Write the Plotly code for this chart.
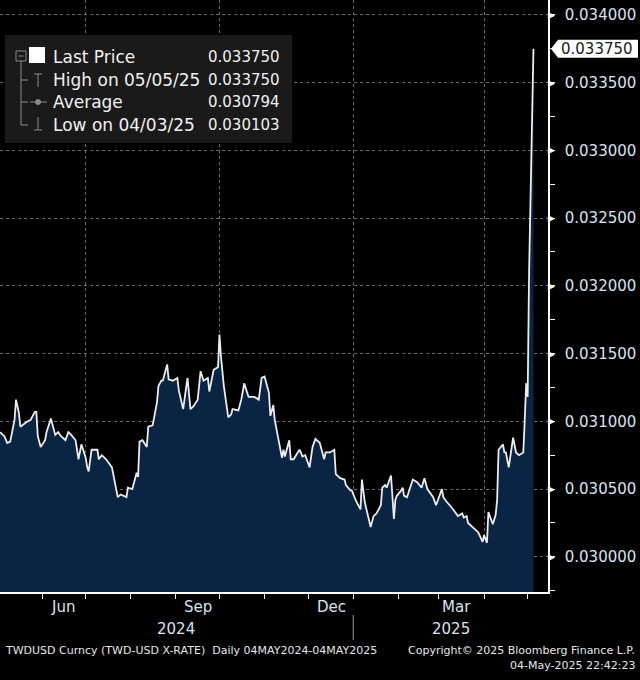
import plotly.graph_objects as go

# TWDUSD daily closes
dates = [
    "2024-05-03", "2024-05-06", "2024-05-08", "2024-05-10", "2024-05-13", "2024-05-14",
    "2024-05-16", "2024-05-17", "2024-05-22", "2024-05-24", "2024-05-27", "2024-05-28",
    "2024-05-29", "2024-05-31", "2024-06-03", "2024-06-04", "2024-06-07", "2024-06-10",
    "2024-06-12", "2024-06-14", "2024-06-17", "2024-06-19", "2024-06-21", "2024-06-24",
    "2024-06-25", "2024-06-26", "2024-06-28", "2024-07-01", "2024-07-02", "2024-07-03",
    "2024-07-05", "2024-07-09", "2024-07-10", "2024-07-12", "2024-07-15", "2024-07-18",
    "2024-07-19", "2024-07-23", "2024-07-25", "2024-07-29", "2024-07-30", "2024-08-02",
    "2024-08-05", "2024-08-06", "2024-08-07", "2024-08-09", "2024-08-12", "2024-08-13",
    "2024-08-16", "2024-08-19", "2024-08-20", "2024-08-22", "2024-08-23", "2024-08-26",
    "2024-08-27", "2024-08-30", "2024-09-02", "2024-09-03", "2024-09-06", "2024-09-09",
    "2024-09-11", "2024-09-13", "2024-09-16", "2024-09-18", "2024-09-20", "2024-09-23",
    "2024-09-24", "2024-09-27", "2024-09-30", "2024-10-01", "2024-10-02", "2024-10-04",
    "2024-10-07", "2024-10-09", "2024-10-10", "2024-10-14", "2024-10-16", "2024-10-18",
    "2024-10-21", "2024-10-23", "2024-10-25", "2024-10-28", "2024-10-30", "2024-11-01",
    "2024-11-04", "2024-11-05", "2024-11-07", "2024-11-08", "2024-11-11", "2024-11-12",
    "2024-11-13", "2024-11-14", "2024-11-15", "2024-11-18", "2024-11-19", "2024-11-21",
    "2024-11-25", "2024-11-26", "2024-11-27", "2024-11-29", "2024-12-02", "2024-12-04",
    "2024-12-06", "2024-12-09", "2024-12-11", "2024-12-12", "2024-12-13", "2024-12-16",
    "2024-12-19", "2024-12-20", "2024-12-23", "2024-12-26", "2024-12-27", "2024-12-30",
    "2024-12-31", "2025-01-03", "2025-01-06", "2025-01-07", "2025-01-09", "2025-01-10",
    "2025-01-13", "2025-01-15", "2025-01-17", "2025-01-20", "2025-01-21", "2025-01-23",
    "2025-01-24", "2025-01-27", "2025-01-29", "2025-01-30", "2025-01-31", "2025-02-03",
    "2025-02-04", "2025-02-05", "2025-02-07", "2025-02-11", "2025-02-14", "2025-02-17",
    "2025-02-19", "2025-02-21", "2025-02-25", "2025-02-27", "2025-03-03", "2025-03-04",
    "2025-03-06", "2025-03-10", "2025-03-12", "2025-03-14", "2025-03-17", "2025-03-18",
    "2025-03-20", "2025-03-21", "2025-03-26", "2025-03-28", "2025-03-31", "2025-04-01",
    "2025-04-03", "2025-04-04", "2025-04-07", "2025-04-09", "2025-04-10", "2025-04-11",
    "2025-04-14", "2025-04-15", "2025-04-16", "2025-04-18", "2025-04-21", "2025-04-23",
    "2025-04-25", "2025-04-28", "2025-04-29", "2025-04-30", "2025-05-01", "2025-05-02",
    "2025-05-05",
]
price = [
    0.03092, 0.03089, 0.03084, 0.03085, 0.03101, 0.03116,
    0.03106, 0.03096, 0.03100, 0.03101, 0.03107, 0.03107,
    0.03089, 0.03081, 0.03086, 0.03092, 0.03102, 0.03090,
    0.03092, 0.03089, 0.03086, 0.03092, 0.03090, 0.03086,
    0.03079, 0.03072, 0.03083, 0.03073, 0.03066, 0.03063,
    0.03079, 0.03079, 0.03072, 0.03075, 0.03072, 0.03068,
    0.03066, 0.03044, 0.03046, 0.03044, 0.03051, 0.03050,
    0.03062, 0.03059, 0.03085, 0.03086, 0.03081, 0.03096,
    0.03097, 0.03114, 0.03126, 0.03130, 0.03130, 0.03142,
    0.03131, 0.03130, 0.03132, 0.03123, 0.03109, 0.03132,
    0.03109, 0.03111, 0.03116, 0.03137, 0.03130, 0.03132,
    0.03122, 0.03138, 0.03140, 0.03164, 0.03148, 0.03126,
    0.03103, 0.03105, 0.03109, 0.03108, 0.03116, 0.03128,
    0.03118, 0.03118, 0.03118, 0.03116, 0.03132, 0.03133,
    0.03121, 0.03104, 0.03112, 0.03101, 0.03084, 0.03077,
    0.03073, 0.03079, 0.03074, 0.03086, 0.03072, 0.03072,
    0.03079, 0.03077, 0.03074, 0.03075, 0.03066, 0.03081,
    0.03087, 0.03084, 0.03077, 0.03072, 0.03077, 0.03077,
    0.03079, 0.03061, 0.03058, 0.03057, 0.03053, 0.03049,
    0.03049, 0.03041, 0.03035, 0.03057, 0.03040, 0.03035,
    0.03022, 0.03030, 0.03032, 0.03038, 0.03051, 0.03053,
    0.03051, 0.03060, 0.03028, 0.03042, 0.03045, 0.03049,
    0.03051, 0.03045, 0.03044, 0.03057, 0.03055, 0.03051,
    0.03058, 0.03050, 0.03044, 0.03038, 0.03050, 0.03044,
    0.03041, 0.03036, 0.03033, 0.03030, 0.03032, 0.03029,
    0.03030, 0.03025, 0.03020, 0.03018, 0.03011, 0.03016,
    0.030103, 0.03033, 0.03024, 0.03031, 0.03042, 0.03079,
    0.03083, 0.03077, 0.03077, 0.03066, 0.03088, 0.03077,
    0.03075, 0.03077, 0.03101, 0.03128, 0.03118, 0.03210,
    0.03375,
]

legend_labels = ["Last Price", "High on 05/05/25", "Average", "Low on 04/03/25"]
legend_values = ["0.033750", "0.033750", "0.030794", "0.030103"]

month_labels = ["Jun", "Sep", "Dec", "Mar"]
month_label_dates = ["2024-06-15", "2024-09-16", "2024-12-17", "2025-03-13"]
year_labels = ["2024", "2025"]
year_label_dates = ["2024-09-01", "2025-03-09"]
quarter_dates = ["2024-07-01", "2024-10-01", "2025-01-01", "2025-04-01"]

y_ticks = [0.0300, 0.0305, 0.0310, 0.0315, 0.0320, 0.0325, 0.0330, 0.0335, 0.0340]

FONT = "DejaVu Sans"
LABEL = "#d9e3ee"
Y_MIN, Y_MAX = 0.02974, 0.03411
PW, PH = 548, 592   # plot area in pixels


def px(x):
    return x / PW


def py(y):
    return 1 - y / PH


fig = go.Figure()
fig.add_trace(go.Scatter(
    x=dates, y=price, mode="lines",
    line=dict(color="#ececec", width=1.8),
    fill="tozeroy", fillcolor="#0a2444",
    hoverinfo="x+y", showlegend=False,
))

shapes = []
annotations = []

# legend panel
shapes.append(dict(type="rect", xref="paper", yref="paper", layer="above",
                   x0=px(5), x1=px(292), y0=py(143), y1=py(35),
                   fillcolor="#1a1a1a", line=dict(width=0)))
grey = dict(color="#8a8a8a", width=1)
shapes += [
    dict(type="rect", xref="paper", yref="paper", layer="above",
         x0=px(16), x1=px(26), y0=py(61), y1=py(51), line=grey),
    dict(type="line", xref="paper", yref="paper", layer="above",
         x0=px(18.5), x1=px(23.5), y0=py(56), y1=py(56), line=grey),
    dict(type="line", xref="paper", yref="paper", layer="above",
         x0=px(21), x1=px(21), y0=py(61), y1=py(125), line=grey),
]
for ry in [80, 102, 125]:
    shapes.append(dict(type="line", xref="paper", yref="paper", layer="above",
                       x0=px(21), x1=px(28), y0=py(ry), y1=py(ry), line=grey))
shapes += [
    # high marker
    dict(type="line", xref="paper", yref="paper", layer="above",
         x0=px(38), x1=px(38), y0=py(74), y1=py(87), line=grey),
    dict(type="line", xref="paper", yref="paper", layer="above",
         x0=px(34), x1=px(42), y0=py(74), y1=py(74), line=grey),
    # average marker
    dict(type="line", xref="paper", yref="paper", layer="above",
         x0=px(30), x1=px(47), y0=py(102), y1=py(102), line=grey),
    dict(type="circle", xref="paper", yref="paper", layer="above",
         x0=px(35.5), x1=px(40.5), y0=py(104.5), y1=py(99.5),
         fillcolor="#8a8a8a", line=grey),
    # low marker
    dict(type="line", xref="paper", yref="paper", layer="above",
         x0=px(38), x1=px(38), y0=py(117), y1=py(130), line=grey),
    dict(type="line", xref="paper", yref="paper", layer="above",
         x0=px(34), x1=px(42), y0=py(130), y1=py(130), line=grey),
    # last price swatch
    dict(type="rect", xref="paper", yref="paper", layer="above",
         x0=px(29), x1=px(45), y0=py(63), y1=py(47),
         fillcolor="white", line=dict(width=0)),
]
for i, (lab, val) in enumerate(zip(legend_labels, legend_values)):
    ry = 57 + i * 22.5
    annotations.append(dict(xref="paper", yref="paper", x=px(51), y=py(ry),
                            xanchor="left", yanchor="middle", showarrow=False,
                            text=lab, font=dict(family=FONT, size=17, color="#f0f0f0")))
    annotations.append(dict(xref="paper", yref="paper", x=px(282), y=py(ry),
                            xanchor="right", yanchor="middle", showarrow=False,
                            text=val, font=dict(family=FONT, size=15, color="#f0f0f0")))

# right-axis tick pointers
for t in y_ticks:
    annotations.append(dict(xref="paper", yref="y", x=1, y=t, xanchor="left",
                            yanchor="middle", showarrow=False, text="▶",
                            xshift=-2, font=dict(family=FONT, size=9, color="white")))

# last price tag
last = price[-1]
yu = (Y_MAX - Y_MIN) / PH
shapes.append(dict(
    type="path", xref="paper", yref="y", layer="above",
    path=(f"M {px(551)},{last} L {px(558)},{last + 9 * yu} L {px(638)},{last + 9 * yu} "
          f"L {px(638)},{last - 9 * yu} L {px(558)},{last - 9 * yu} Z"),
    fillcolor="white", line=dict(width=0)))
annotations.append(dict(xref="paper", yref="y", x=px(597), y=last, xanchor="center",
                        yanchor="middle", showarrow=False, text=f"{last:.6f}",
                        font=dict(family=FONT, size=15, color="#1a1a1a")))

# month and year labels
for lab, d in zip(month_labels, month_label_dates):
    annotations.append(dict(xref="x", yref="paper", x=d, y=py(607), yanchor="middle",
                            showarrow=False, text=lab,
                            font=dict(family=FONT, size=15, color=LABEL)))
for lab, d in zip(year_labels, year_label_dates):
    annotations.append(dict(xref="x", yref="paper", x=d, y=py(629), yanchor="middle",
                            showarrow=False, text=lab,
                            font=dict(family=FONT, size=15, color=LABEL)))
shapes.append(dict(type="line", xref="x", yref="paper", x0="2025-01-01", x1="2025-01-01",
                   y0=py(615), y1=py(640), line=dict(color="#9a9a9a", width=1)))

# footer
foot = dict(family=FONT, size=11, color="#e6e6e6")
annotations += [
    dict(xref="paper", yref="paper", x=px(3), y=py(650), xanchor="left", yanchor="middle",
         showarrow=False, text="TWDUSD Curncy (TWD-USD X-RATE)  Daily 04MAY2024-04MAY2025",
         font=foot),
    dict(xref="paper", yref="paper", x=px(637), y=py(650), xanchor="right", yanchor="middle",
         showarrow=False, text="Copyright© 2025 Bloomberg Finance L.P.", font=foot),
    dict(xref="paper", yref="paper", x=px(637), y=py(665), xanchor="right", yanchor="middle",
         showarrow=False, text="04-May-2025 22:42:23", font=foot),
]

fig.update_layout(
    width=640, height=680,
    margin=dict(l=0, r=92, t=0, b=88),
    paper_bgcolor="black", plot_bgcolor="black",
    shapes=shapes, annotations=annotations,
    showlegend=False,
    xaxis=dict(
        type="date", range=["2024-05-03", "2025-05-15"],
        tickvals=quarter_dates, showticklabels=False,
        ticks="outside", ticklen=5, tickcolor="white",
        showgrid=True, gridcolor="#6a6a6a", griddash="dot", gridwidth=1,
        showline=True, linecolor="white", linewidth=1.5, zeroline=False,
        minor=dict(dtick="M1", tick0="2024-05-01", ticks="outside", ticklen=5,
                   tickcolor="white", showgrid=False),
    ),
    yaxis=dict(
        side="right", range=[Y_MIN, Y_MAX],
        tickvals=y_ticks, tickformat=".6f", ticks="", ticklabelstandoff=12,
        tickfont=dict(family=FONT, size=15, color=LABEL),
        showgrid=True, gridcolor="#6a6a6a", griddash="dot", gridwidth=1,
        showline=True, linecolor="white", linewidth=1.5, zeroline=False,
        minor=dict(dtick=0.00025, tick0=0.03, ticks="outside", ticklen=5,
                   tickcolor="white", showgrid=False),
    ),
)

fig.write_html("out.html", config={"displayModeBar": False},
               post_script="document.body.style.margin='0px';"
                           "document.body.style.background='black';")
